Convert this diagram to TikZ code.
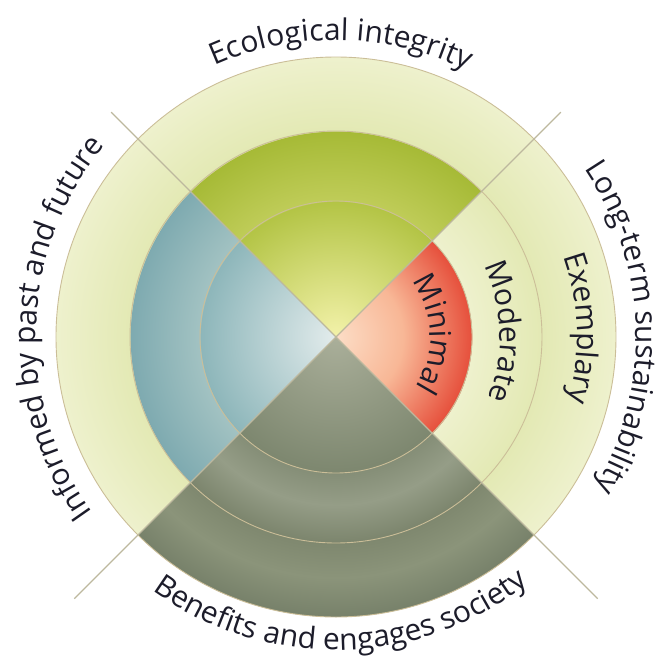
\documentclass[tikz,border=0pt]{standalone}
\usepackage{fontspec}
\setmainfont{Open Sans}
\usetikzlibrary{decorations.text}

\definecolor{ink}{HTML}{1C1C2A}
\definecolor{ecoCore}{HTML}{F3F2AA}
\definecolor{ecoRim}{HTML}{B3C445}
\definecolor{ecoMidIn}{HTML}{BFCC58}
\definecolor{ecoMidOut}{HTML}{A6BA36}
\definecolor{redCore}{HTML}{FCDDC6}
\definecolor{redMid}{HTML}{F8B796}
\definecolor{redRim}{HTML}{E6503C}
\definecolor{blueCore}{HTML}{E3ECEC}
\definecolor{blueRim}{HTML}{8DB6BA}
\definecolor{blueMidIn}{HTML}{A2C2C2}
\definecolor{blueMidOut}{HTML}{7EAAB0}
\definecolor{greyCore}{HTML}{AAAF9A}
\definecolor{greyRim}{HTML}{7D876F}
\definecolor{greyMidIn}{HTML}{858E77}
\definecolor{greyMidMid}{HTML}{959D87}
\definecolor{greyMidOut}{HTML}{7C856D}
\definecolor{greyOutIn}{HTML}{7F886F}
\definecolor{greyOutMid}{HTML}{8B947A}
\definecolor{greyOutOut}{HTML}{77816A}
\definecolor{paleIn}{HTML}{E3E9B4}
\definecolor{paleOut}{HTML}{EEF1CD}
\definecolor{ringtan}{HTML}{CBBE98}
\definecolor{spoketan}{HTML}{BDB89E}

\pgfdeclareradialshading{ecology}{\pgfpoint{0bp}{0bp}}{color(0bp)=(ecoCore); color(12.12bp)=(ecoRim); color(12.16bp)=(ecoMidIn); color(18.37bp)=(ecoMidOut); color(18.41bp)=(paleIn); color(25bp)=(paleOut); color(50bp)=(paleOut)}
\pgfdeclareradialshading{longterm}{\pgfpoint{0bp}{0bp}}{color(0bp)=(redCore); color(6bp)=(redMid); color(12.12bp)=(redRim); color(12.16bp)=(paleOut); color(18.37bp)=(paleIn); color(18.41bp)=(paleIn); color(25bp)=(paleOut); color(50bp)=(paleOut)}
\pgfdeclareradialshading{informed}{\pgfpoint{0bp}{0bp}}{color(0bp)=(blueCore); color(12.12bp)=(blueRim); color(12.16bp)=(blueMidIn); color(18.37bp)=(blueMidOut); color(18.41bp)=(paleIn); color(25bp)=(paleOut); color(50bp)=(paleOut)}
\pgfdeclareradialshading{benefits}{\pgfpoint{0bp}{0bp}}{color(0bp)=(greyCore); color(12.12bp)=(greyRim); color(12.16bp)=(greyMidIn); color(15bp)=(greyMidMid); color(18.37bp)=(greyMidOut); color(18.41bp)=(greyOutIn); color(21.5bp)=(greyOutMid); color(25bp)=(greyOutOut); color(50bp)=(greyOutOut)}

\newcommand\rInner{136}
\newcommand\rMiddle{206}
\newcommand\rOuter{280}
\newcommand\labelfont{\color{ink}\fontsize{30}{30}\selectfont}

\tikzset{
  ringline/.style={draw=ringtan, line width=0.9pt},
  spoke/.style={draw=spoketan, line width=1.2pt},
  arclabel/.style={decorate, decoration={text along path, text align=center, text={|\labelfont|#1}}}
}

\begin{document}
\begin{tikzpicture}[x=1pt,y=1pt]
    \useasboundingbox (-336,-320) rectangle (334,337);
    \foreach \shname/\a in {ecology/45,informed/135,benefits/225,longterm/-45}{
        \begin{scope}
            \clip (0,0) -- (\a:\rOuter+2) arc[start angle=\a, delta angle=90, radius=\rOuter+2] -- cycle;
            \shade[shading=\shname] (0,0) circle[radius=\rOuter];
        \end{scope}
    }
    \draw[ringline] (0,0) circle[radius=\rInner];
    \draw[ringline] (0,0) circle[radius=\rMiddle];
    \draw[ringline] (0,0) circle[radius=\rOuter];
    \draw[spoke] (45:318) -- (225:370);
    \draw[spoke] (135:318) -- (315:370);
    \path[arclabel={Ecological integrity}] (144:297) arc[start angle=144, end angle=34, radius=297];
    \path[arclabel={Long-term sustainability}] (62:300) arc[start angle=62, end angle=-58, radius=300];
    \path[arclabel={Informed by past and future}] (238:300) arc[start angle=238, end angle=118, radius=300];
    \path[arclabel={Benefits and engages society}] (211:313) arc[start angle=211, end angle=331, radius=313];
    \path[arclabel={Minimal}] (62:94) arc[start angle=62, end angle=-58, radius=94];
    \path[arclabel={Moderate}] (62:164) arc[start angle=62, end angle=-58, radius=164];
    \path[arclabel={Exemplary}] (62:241) arc[start angle=62, end angle=-58, radius=241];
\end{tikzpicture}
\end{document}
